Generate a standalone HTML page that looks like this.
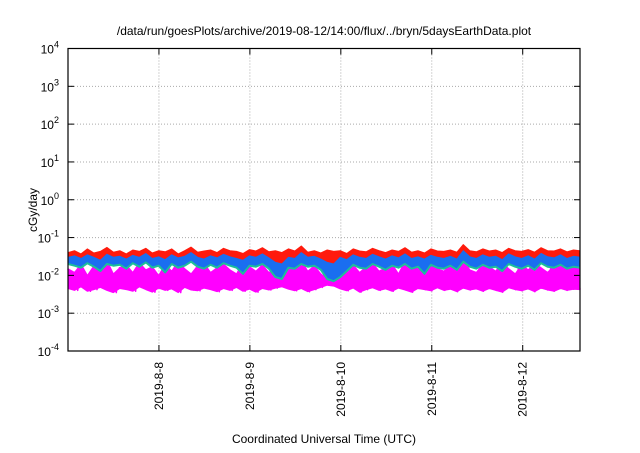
<!DOCTYPE html>
<html><head><meta charset="utf-8"><style>
body{margin:0;background:#fff}
svg text{font-family:"Liberation Sans",sans-serif;fill:#000}
</style></head><body>
<svg id="chart" width="640" height="448" xmlns="http://www.w3.org/2000/svg">
<text x="324" y="35" font-size="12" text-anchor="middle">/data/run/goesPlots/archive/2019-08-12/14:00/flux/../bryn/5daysEarthData.plot</text>
<text transform="translate(37,210) rotate(-90)" font-size="12" text-anchor="middle">cGy/day</text>
<text x="324" y="443" font-size="12" text-anchor="middle">Coordinated Universal Time (UTC)</text>
<g id="grid"></g><g id="series"></g><g id="axes"></g>
</svg>
<script>
const yTickExps=[-4,-3,-2,-1,0,1,2,3,4];
const xTickDays=[1,2,3,4,5];
const xTickLabels=["2019-8-8","2019-8-9","2019-8-10","2019-8-11","2019-8-12"];
const tStart=0, tEnd=5.63;
const red=[.04,.045,.037,.05,.039,.043,.055,.041,.045,.037,.047,.043,.052,.039,.045,.042,.05,.037,.045,.056,.041,.044,.047,.04,.052,.045,.043,.038,.048,.044,.054,.042,.045,.04,.05,.044,.06,.041,.045,.039,.047,.043,.045,.038,.05,.044,.042,.052,.045,.04,.047,.043,.054,.041,.045,.039,.05,.044,.043,.047,.041,.065,.045,.042,.05,.044,.047,.04,.052,.045,.043,.048,.041,.054,.045,.044,.05,.042,.047,.045];
const blue=[.03,.033,.028,.035,.03,.025,.036,.03,.032,.027,.034,.03,.038,.028,.031,.026,.035,.029,.032,.04,.03,.027,.033,.029,.036,.031,.028,.025,.033,.03,.037,.029,.022,.02,.03,.028,.04,.03,.032,.027,.022,.02,.03,.026,.035,.03,.028,.036,.031,.027,.033,.029,.037,.028,.031,.027,.034,.03,.028,.032,.027,.045,.031,.028,.035,.03,.032,.026,.037,.031,.028,.033,.027,.038,.031,.029,.035,.028,.032,.03];
const teal=[.02,.018,.016,.021,.017,.013,.02,.018,.019,.015,.021,.017,.022,.016,.018,.012,.02,.016,.018,.023,.017,.015,.019,.016,.021,.018,.016,.011,.018,.017,.02,.015,.009,.008,.016,.015,.02,.017,.018,.014,.008,.007,.009,.013,.019,.016,.015,.02,.017,.014,.018,.016,.02,.015,.017,.011,.019,.016,.015,.018,.014,.023,.017,.015,.019,.016,.017,.013,.02,.017,.015,.018,.014,.021,.017,.016,.019,.015,.017,.016];
const magentaHi=[.015,.012,.02,.01,.018,.013,.025,.011,.016,.019,.012,.022,.014,.017,.01,.02,.013,.024,.015,.011,.018,.021,.012,.016,.02,.014,.011,.023,.017,.013,.019,.012,.015,.009,.02,.014,.025,.013,.018,.011,.008,.01,.022,.015,.019,.012,.017,.021,.013,.016,.02,.011,.024,.014,.018,.012,.021,.015,.013,.019,.016,.03,.014,.012,.02,.017,.013,.022,.015,.011,.019,.014,.021,.016,.012,.018,.023,.014,.017,.02];
const magentaLo=[.0045,.004,.005,.0038,.0042,.0048,.004,.0035,.0045,.0042,.0038,.005,.0042,.0036,.0046,.004,.0044,.0035,.0048,.0041,.0039,.0046,.0042,.0037,.0045,.004,.0048,.0038,.0043,.0036,.0045,.0041,.0046,.005,.0043,.0039,.0045,.0037,.0042,.0048,.0055,.0052,.0044,.0039,.0046,.0036,.0042,.0047,.004,.0044,.0038,.0046,.0041,.0036,.0045,.0042,.0039,.0047,.004,.0043,.0037,.0046,.0041,.0044,.0038,.0045,.004,.0036,.0047,.0042,.0039,.0044,.0037,.0046,.0041,.0038,.0045,.004,.0043,.0042];

const L=68,R=580,T=48.5,B=351;
const NS="http://www.w3.org/2000/svg";
const xs=d=>L+(d-tStart)/(tEnd-tStart)*(R-L);
const ys=v=>T+(4-Math.log10(v))/8*(B-T);
const mk=(tag,attrs,parent)=>{const e=document.createElementNS(NS,tag);for(const k in attrs)e.setAttribute(k,attrs[k]);document.getElementById(parent).appendChild(e);return e;};
yTickExps.forEach(e=>{
  const y=ys(Math.pow(10,e));
  if(e>-4&&e<4){const g=mk('line',{x1:L,x2:R,y1:y,y2:y,stroke:'#aaa','stroke-dasharray':'1,2','stroke-width':1},'grid');
  
  }
  const t1=mk('line',{x1:L,x2:L+6,y1:y,y2:y,stroke:'#000'},'axes');
  
  
  const t2=mk('line',{x1:R-6,x2:R,y1:y,y2:y,stroke:'#000'},'axes');
  
  
  const tx=mk('text',{x:L-9,y:y+5,'font-size':12,'text-anchor':'end'},'axes');
  
  
  tx.innerHTML='10<tspan font-size="9" dy="-6">'+e+'</tspan>';
});
xTickDays.forEach((d,i)=>{
  const x=xs(d);
  const g=mk('line',{x1:x,x2:x,y1:T,y2:B,stroke:'#aaa','stroke-dasharray':'1,2'},'grid');
  
  
  const t1=mk('line',{x1:x,x2:x,y1:B-6,y2:B,stroke:'#000'},'axes');
  
  
  const t2=mk('line',{x1:x,x2:x,y1:T,y2:T+6,stroke:'#000'},'axes');
  
  
  const tx=mk('text',{transform:`translate(${x+4},362) rotate(-90)`,'font-size':12,'text-anchor':'end'},'axes');
  
  
  tx.textContent=xTickLabels[i];
});
const pts=vals=>{const n=vals.length;return vals.map((v,i)=>xs(tStart+i*(tEnd-tStart)/(n-1)).toFixed(1)+','+ys(v).toFixed(1));};
function band(top,bot,color,name){
  const p=mk('polygon',{points:pts(top).concat(pts(bot).reverse()).join(' '),fill:color,stroke:color,'stroke-width':1,'stroke-linejoin':'round'},'series');
  
  
}
function line(vals,color,w,name){
  const p=mk('polyline',{points:pts(vals).join(' '),fill:'none',stroke:color,'stroke-width':w,'stroke-linejoin':'round'},'series');
  
  
}
band(red,blue,'#ff1a0d','series-red');
band(magentaHi,magentaLo,'#ff00ff','series-magenta-band');
const mag=[];magentaHi.forEach((v,i)=>{mag.push(v);mag.push(magentaLo[i]);});
line(mag,'#ff00ff',1.5,'series-magenta');
band(blue,teal,'#1a6ef0','series-blue');
line(teal,'#1dbf9a',2,'series-teal');
const fr=mk('rect',{x:L,y:T,width:R-L,height:B-T,fill:'none',stroke:'#000','stroke-width':1.2},'axes');


</script>
</body></html>
